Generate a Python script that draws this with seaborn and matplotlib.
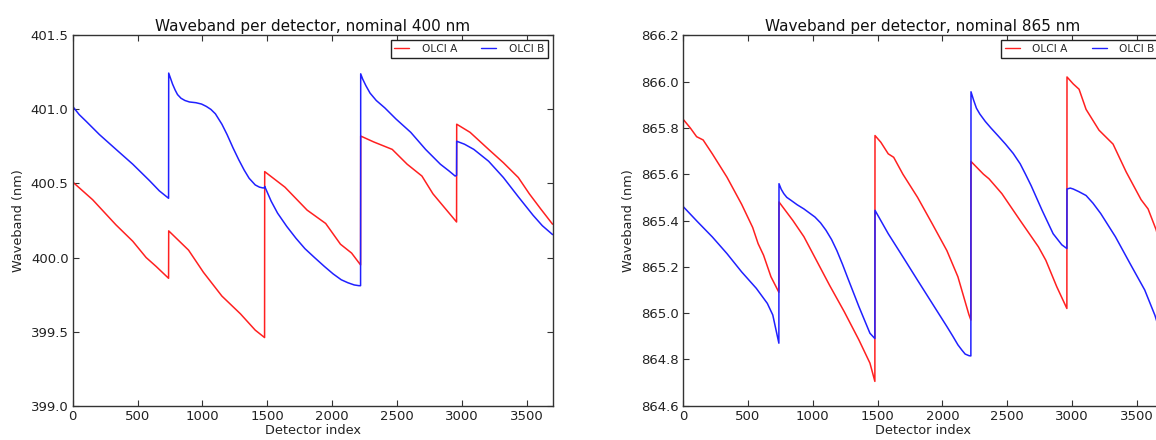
import numpy as np
import pandas as pd
import matplotlib
matplotlib.use("Agg")
import matplotlib.pyplot as plt
import seaborn as sns
from matplotlib.ticker import FormatStrFormatter, MultipleLocator

# ---------------- data ----------------
series_names = ["OLCI A", "OLCI B"]
titles = ["Waveband per detector, nominal 400 nm", "Waveband per detector, nominal 865 nm"]
x_label = "Detector index"
y_label = "Waveband (nm)"

# nominal 400 nm
det_a_400 = [0, 154, 334, 463, 566, 643, 739,
             740, 893, 1008, 1150, 1293, 1407, 1479,
             1480, 1636, 1807, 1950, 2064, 2150, 2219,
             2220, 2321, 2463, 2578, 2692, 2777, 2863, 2959,
             2960, 3063, 3206, 3320, 3435, 3520, 3606, 3699]
wav_a_400 = [400.51, 400.39, 400.22, 400.11, 400.00, 399.94, 399.86,
             400.18, 400.05, 399.90, 399.74, 399.62, 399.51, 399.46,
             400.58, 400.475, 400.32, 400.23, 400.09, 400.03, 399.95,
             400.82, 400.78, 400.73, 400.63, 400.55, 400.43, 400.34, 400.24,
             400.90, 400.845, 400.73, 400.64, 400.54, 400.43, 400.33, 400.225]

det_b_400 = [0, 50, 103, 206, 334, 463, 591, 668, 739,
             740, 752, 770, 790, 808, 835, 865, 900, 950, 993, 1030, 1065, 1100, 1150, 1190,
             1236, 1280, 1322, 1360, 1407, 1440, 1465, 1479,
             1480, 1530, 1579, 1650, 1721, 1790, 1864, 1940, 2007, 2070, 2121, 2170, 2207, 2219,
             2220, 2235, 2260, 2292, 2340, 2406, 2492, 2606, 2720, 2834, 2900, 2948, 2959,
             2960, 3020, 3092, 3206, 3320, 3435, 3549, 3620, 3699]
wav_b_400 = [401.02, 400.965, 400.92, 400.83, 400.73, 400.63, 400.52, 400.45, 400.40,
             401.245, 401.215, 401.17, 401.13, 401.10, 401.075, 401.06, 401.05, 401.045, 401.036,
             401.02, 401.00, 400.97, 400.90, 400.83,
             400.74, 400.66, 400.59, 400.535, 400.49, 400.475, 400.47, 400.47,
             400.48, 400.38, 400.30, 400.21, 400.13, 400.06, 400.00, 399.94, 399.89, 399.85,
             399.83, 399.815, 399.81, 399.81,
             401.24, 401.205, 401.16, 401.11, 401.06, 401.01, 400.935, 400.845, 400.73, 400.63,
             400.585, 400.55, 400.555,
             400.785, 400.765, 400.73, 400.65, 400.54, 400.41, 400.285, 400.215, 400.155]

# nominal 865 nm
det_a_865 = [0, 56, 105, 155, 226, 339, 452, 537, 579, 621, 678, 739,
             740, 847, 932, 1017, 1130, 1243, 1356, 1441, 1479,
             1480, 1525, 1582, 1624, 1695, 1808, 1921, 2034, 2119, 2203, 2219,
             2220, 2316, 2359, 2458, 2599, 2740, 2797, 2881, 2959,
             2960, 3008, 3053, 3107, 3207, 3315, 3416, 3531, 3585, 3647, 3699]
wav_a_865 = [865.838, 865.80, 865.762, 865.748, 865.688, 865.587, 865.47, 865.37, 865.30, 865.25, 865.157, 865.09,
             865.48, 865.40, 865.33, 865.24, 865.12, 865.006, 864.884, 864.784, 864.705,
             865.767, 865.738, 865.688, 865.673, 865.60, 865.50, 865.386, 865.27, 865.157, 864.995, 864.97,
             865.655, 865.60, 865.58, 865.516, 865.40, 865.286, 865.228, 865.114, 865.02,
             866.02, 865.99, 865.967, 865.88, 865.79, 865.73, 865.61, 865.49, 865.45, 865.36, 865.25]

det_b_865 = [0, 113, 226, 339, 452, 565, 650, 692, 739,
             740, 757, 777, 800, 833, 880, 932, 1017, 1060, 1102, 1145, 1186, 1230, 1271, 1356, 1441, 1479,
             1480, 1582, 1695, 1808, 1921, 2034, 2080, 2119, 2150, 2175, 2205, 2219,
             2220, 2240, 2262, 2288, 2330, 2373, 2430, 2486, 2545, 2599, 2640, 2684, 2768, 2853, 2920, 2959,
             2960, 2985, 3008, 3050, 3107, 3160, 3220, 3333, 3446, 3559, 3638, 3699]
wav_b_865 = [865.461, 865.394, 865.329, 865.257, 865.178, 865.107, 865.042, 864.992, 864.87,
             865.559, 865.535, 865.516, 865.50, 865.487, 865.468, 865.45, 865.415, 865.39, 865.358,
             865.318, 865.27, 865.21, 865.15, 865.028, 864.913, 864.89,
             865.444, 865.343, 865.243, 865.142, 865.042, 864.942, 864.90, 864.863, 864.84, 864.823,
             864.816, 864.815,
             865.956, 865.92, 865.885, 865.86, 865.828, 865.80, 865.765, 865.73, 865.69, 865.645,
             865.60, 865.55, 865.444, 865.343, 865.295, 865.279,
             865.536, 865.54, 865.536, 865.525, 865.508, 865.475, 865.43, 865.33, 865.214, 865.10,
             864.99, 864.88]

x_ticks = [0, 500, 1000, 1500, 2000, 2500, 3000, 3500]
y_lim_400 = (399.0, 401.5)
y_lim_865 = (864.6, 866.2)
x_lim = (0, 3700)

# ---------------- style ----------------
sns.set_theme(style="white")
plt.rcParams.update({
    "font.family": ["DejaVu Sans"],
    "xtick.direction": "in",
    "ytick.direction": "in",
    "xtick.top": True,
    "ytick.right": True,
    "xtick.bottom": True,
    "ytick.left": True,
    "xtick.major.size": 4.5,
    "ytick.major.size": 4.5,
    "xtick.major.width": 0.8,
    "ytick.major.width": 0.8,
    "xtick.color": "#333333",
    "ytick.color": "#333333",
    "axes.edgecolor": "#333333",
    "axes.linewidth": 1.0,
})


def make_df(xa, ya, xb, yb):
    return pd.concat([
        pd.DataFrame({"det": xa, "wav": ya, "sensor": series_names[0]}),
        pd.DataFrame({"det": xb, "wav": yb, "sensor": series_names[1]}),
    ], ignore_index=True)


df400 = make_df(det_a_400, wav_a_400, det_b_400, wav_b_400)
df865 = make_df(det_a_865, wav_a_865, det_b_865, wav_b_865)

fig = plt.figure(figsize=(11.56, 4.40), dpi=100)
ax1 = fig.add_axes([72.7 / 1156, 1 - 405.7 / 440, 480 / 1156, 370.4 / 440])
ax2 = fig.add_axes([683 / 1156, 1 - 405.7 / 440, 480 / 1156, 370.4 / 440])

palette = {series_names[0]: "#ff2020", series_names[1]: "#2020ff"}

for ax, df, title, ylim in [(ax1, df400, titles[0], y_lim_400),
                            (ax2, df865, titles[1], y_lim_865)]:
    sns.lineplot(data=df, x="det", y="wav", hue="sensor", palette=palette,
                 estimator=None, sort=True, linewidth=1.1, ax=ax)
    ax.set_xlim(*x_lim)
    ax.set_ylim(*ylim)
    ax.set_xticks(x_ticks)
    ax.yaxis.set_major_locator(MultipleLocator(0.5 if ylim[0] < 500 else 0.2))
    ax.yaxis.set_major_formatter(FormatStrFormatter("%.1f"))
    ax.tick_params(labelsize=9.5, labelcolor="#222222", pad=3)
    ax.set_xlabel(x_label, fontsize=9.3, color="#222222", labelpad=1)
    ax.set_ylabel(y_label, fontsize=9.3, color="#222222", labelpad=4)
    ax.set_title(title, fontsize=11, color="#111111", pad=3)
    for s in ax.spines.values():
        s.set_visible(True)
    handles, labels = ax.get_legend_handles_labels()
    for h in handles:
        h.set_linewidth(1.0)
    leg = ax.legend(handles, labels, loc="upper right", ncol=2, fontsize=7.7,
                    frameon=True, fancybox=False, framealpha=1,
                    edgecolor="#222222", handlelength=1.4, handletextpad=1.15,
                    columnspacing=2.3, borderaxespad=0.45, borderpad=0.35)
    leg.get_frame().set_linewidth(1.0)

fig.savefig("out.png", dpi=100)
